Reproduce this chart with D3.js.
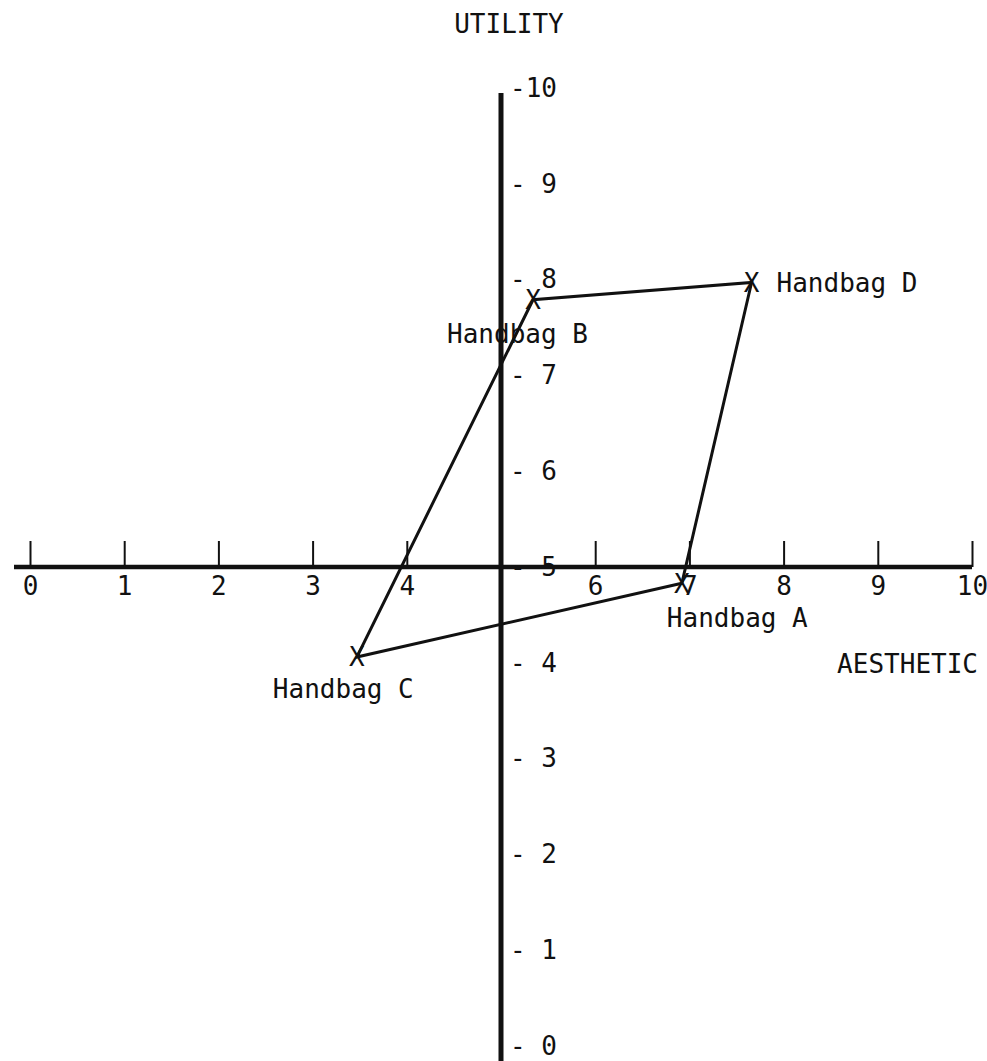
<!DOCTYPE html>
<html>
<head>
<meta charset="utf-8">
<script src="https://cdn.jsdelivr.net/npm/d3@7"></script>
<style>
  body { margin: 0; background: #fff; }
  text { font-family: "DejaVu Sans Mono", monospace; fill: #111; }
</style>
</head>
<body>
<div id="chart"></div>
<script>
// handbag positions
var bags = ['Handbag A', 'Handbag B', 'Handbag C', 'Handbag D']
var aesthetic = [6.92, 5.34, 3.47, 7.66]
var utility = [4.83, 7.79, 4.06, 7.97]
// order the outline is drawn in
var outline = ['Handbag A', 'Handbag C', 'Handbag B', 'Handbag D']

var xTicks = [0, 1, 2, 3, 4, 6, 7, 8, 9, 10]
var yTicks = [0, 1, 2, 3, 4, 5, 6, 7, 8, 9, 10]

var width = 987, height = 1061
var fontSize = 26

var points = bags.map(function (b, i) {
  return { name: b, a: aesthetic[i], u: utility[i] }
})

var svg = d3.select('#chart')
  .append('svg')
  .attr('width', width)
  .attr('height', height)

var x = d3.scaleLinear().domain([0, 10]).range([30, 972])
var y = d3.scaleLinear().domain([0, 10]).range([1046, 88])

// horizontal axis line (drawn thick, like the original)
svg.append('line')
  .attr('x1', x(0) - 16)
  .attr('x2', x(10))
  .attr('y1', y(5))
  .attr('y2', y(5))
  .attr('stroke', '#111')
  .attr('stroke-width', 4.5)

// Add X axis: ticks above the line, numbers below
var xAxis = svg.append('g')
  .attr('transform', 'translate(0,' + y(5) + ')')
  .call(d3.axisBottom(x).tickValues(xTicks).tickSizeInner(-26).tickSizeOuter(0).tickPadding(10))
xAxis.select('.domain').remove()
xAxis.selectAll('line').attr('stroke', '#111').attr('stroke-width', 2)
xAxis.selectAll('text')
  .attr('font-size', fontSize)
  .attr('font-family', '"DejaVu Sans Mono", monospace')
  .attr('fill', '#111')

// vertical axis line
svg.append('line')
  .attr('x1', x(5))
  .attr('x2', x(5))
  .attr('y1', y(10) + 5)
  .attr('y2', height)
  .attr('stroke', '#111')
  .attr('stroke-width', 5)

// Add Y axis, typed as "- 9" labels to the right of the line
var yAxis = svg.append('g')
  .attr('transform', 'translate(' + x(5) + ',0)')
  .call(d3.axisRight(y).tickValues(yTicks).tickSize(0).tickPadding(9)
    .tickFormat(function (d) { return d == 10 ? '-10' : '- ' + d }))
yAxis.select('.domain').remove()
yAxis.selectAll('text')
  .attr('font-size', fontSize)
  .attr('font-family', '"DejaVu Sans Mono", monospace')
  .attr('fill', '#111')

// axis titles
svg.append('text')
  .attr('x', x(5) + 8)
  .attr('y', 33)
  .attr('text-anchor', 'middle')
  .style('font-size', fontSize)
  .text('UTILITY')

svg.append('text')
  .attr('x', x(10) + 6)
  .attr('y', y(4) + 10)
  .attr('text-anchor', 'end')
  .style('font-size', fontSize)
  .text('AESTHETIC')

// outline joining the four handbags
var byName = {}
points.forEach(function (p) { byName[p.name] = p })

var line = d3.line()
  .x(function (d) { return x(d.a) })
  .y(function (d) { return y(d.u) })
  .curve(d3.curveLinearClosed)

svg.append('path')
  .datum(outline.map(function (n) { return byName[n] }))
  .attr('d', line)
  .attr('fill', 'none')
  .attr('stroke', '#111')
  .attr('stroke-width', 3)

// X marks
svg.selectAll('.mark')
  .data(points)
  .enter()
  .append('text')
  .attr('class', 'mark')
  .attr('x', function (d) { return x(d.a) })
  .attr('y', function (d) { return y(d.u) })
  .attr('dy', '0.36em')
  .attr('text-anchor', 'middle')
  .style('font-size', fontSize)
  .text('X')

// labels sit where the typist put them
function labelOffset (name) {
  if (name == 'Handbag A') return [-15, 44]
  if (name == 'Handbag B') return [-86, 43]
  if (name == 'Handbag C') return [-84, 41]
  return [25, 10]
}

svg.selectAll('.label')
  .data(points)
  .enter()
  .append('text')
  .attr('class', 'label')
  .attr('x', function (d) { return x(d.a) + labelOffset(d.name)[0] })
  .attr('y', function (d) { return y(d.u) + labelOffset(d.name)[1] })
  .style('font-size', fontSize)
  .text(function (d) { return d.name })
</script>
</body>
</html>
